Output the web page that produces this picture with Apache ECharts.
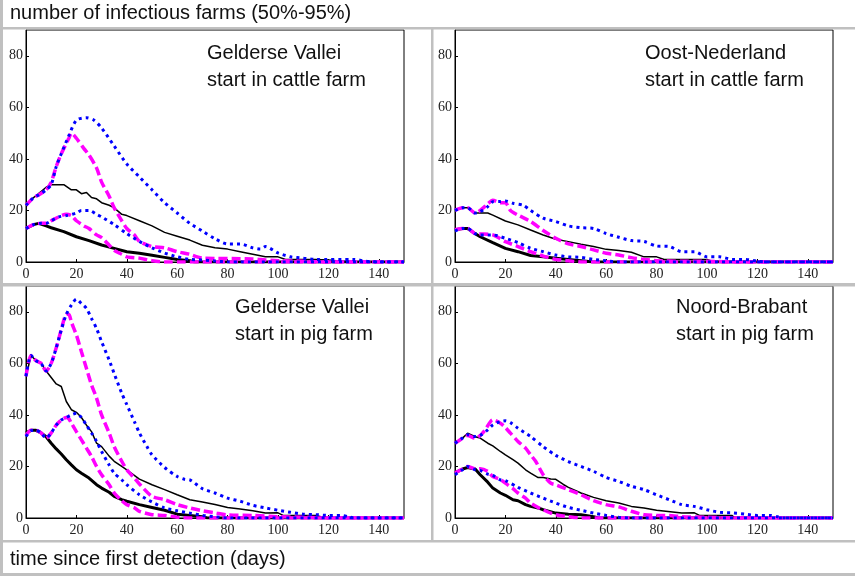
<!DOCTYPE html>
<html>
<head>
<meta charset="utf-8">
<script src="https://cdn.jsdelivr.net/npm/echarts@6/dist/echarts.min.js"></script>
<style>
html,body{margin:0;padding:0;background:#fff;}
#chart{width:855px;height:576px;}
</style>
</head>
<body>
<div id="chart"></div>
<script>
// ---------- labels ----------
const yAxisTitle = 'number of infectious farms (50%-95%)';
const xAxisTitle = 'time since first detection (days)';
const panelTitles = [
  'Gelderse Vallei\nstart in cattle farm',
  'Oost-Nederland\nstart in cattle farm',
  'Gelderse Vallei\nstart in pig farm',
  'Noord-Brabant\nstart in pig farm'
];

// ---------- data: [day, number of infectious farms] ----------
// Panel 1: Gelderse Vallei, start in cattle farm
const gvC_black95 = [[0,22],[3,25],[5,26.5],[8,29],[10,30],[15,30],[18,28],[20,28],[22,26.5],[24,27],[26,25],[28,24.5],[30,23],[33,22],[35,21],[38,18.5],[40,18],[45,16],[50,14],[55,11.5],[60,10],[65,8.5],[70,6.5],[75,5.5],[80,5],[85,4],[90,3],[95,2],[100,2],[103,1],[115,1],[120,0.8],[125,0.3],[130,0],[150,0]];
const gvC_black50 = [[0,13],[3,14.5],[5,15],[8,14],[10,13.3],[15,11.8],[20,9.8],[25,8.3],[30,6.6],[35,5.3],[40,4],[45,3.4],[50,2.6],[55,1.8],[60,1],[65,0.5],[67,0],[150,0]];
const gvC_mag95 = [[0,22],[3,25],[5,26],[8,28],[10,31],[12,37],[14,42],[17,48],[18,50],[20,48],[23,44],[25,41.5],[28,36.5],[30,31],[33,25.5],[35,21],[38,16],[40,13],[43,10.5],[45,8],[50,6],[55,5.5],[60,4],[65,3],[68,2],[70,1.5],[90,1.2],[95,0.8],[100,0.5],[110,0.3],[120,0],[150,0]];
const gvC_mag50 = [[0,13],[3,14.5],[6,15],[8,15],[10,16],[13,17.5],[16,18.5],[18,18],[20,16],[23,14],[25,13],[28,10.5],[30,9.5],[33,6.5],[35,4.5],[38,3],[40,2],[45,1.5],[50,0.5],[55,0],[150,0]];
const gvC_blue95 = [[0,22],[3,25],[5,26],[8,28],[10,30],[12,37],[14,42],[17,49],[20,55],[24,56],[27,55],[30,52],[35,45],[40,38],[45,33],[50,28],[55,23],[60,19],[65,15],[70,12],[75,9],[80,7],[85,7],[90,5.5],[93,5],[95,6],[100,3.5],[105,2],[110,1.5],[115,1],[130,1],[135,0.3],[140,0],[150,0]];
const gvC_blue50 = [[0,13],[3,14.5],[6,15],[8,15],[10,16],[13,17.5],[16,18],[20,19],[22,20],[25,20],[28,18.5],[30,17.5],[35,14.5],[40,11],[45,8],[50,5.5],[55,3.5],[60,2],[65,1],[70,0.8],[75,0.4],[80,0],[150,0]];

// Panel 2: Oost-Nederland, start in cattle farm
const onC_black95 = [[0,20],[3,21],[5,21],[8,19],[10,19],[13,19],[15,18.2],[20,15.9],[25,14.4],[30,12.4],[35,10.5],[40,8.8],[45,7.9],[50,6.9],[55,6],[60,4.9],[65,4.5],[70,3.8],[75,2],[80,2],[83,1],[100,1],[102,0.3],[110,0],[150,0]];
const onC_black50 = [[0,12.5],[3,13],[5,13],[8,11],[10,9.8],[15,7.5],[20,5.3],[25,4],[30,2.5],[35,2],[40,1.5],[45,1],[50,0.5],[55,0],[150,0]];
const onC_mag95 = [[0,20],[3,21],[5,21],[8,19],[10,20],[13,22.5],[15,24],[18,23],[20,23],[22,20],[25,18.2],[30,15.7],[35,12.2],[40,9.2],[45,7],[50,6],[55,4.7],[60,3.4],[65,2.7],[70,1.7],[75,1],[80,0.5],[90,0.3],[100,0.3],[110,0],[150,0]];
const onC_mag50 = [[0,12.5],[3,13],[5,13],[8,11],[10,10.9],[15,10.5],[20,7.9],[25,6],[30,4],[35,2.3],[40,1],[45,0.5],[50,0],[150,0]];
const onC_blue95 = [[0,20],[3,21],[5,21],[8,19],[10,19.5],[13,21.5],[15,23.4],[18,23.5],[20,23.7],[23,22.8],[27,22],[30,20],[35,17],[40,15.7],[45,14],[50,13.3],[55,13],[60,11],[65,9.6],[70,8.3],[75,8],[80,6.2],[85,6],[90,4],[95,4],[100,2],[105,2],[110,1],[115,1],[120,0.3],[125,0],[150,0]];
const onC_blue50 = [[0,12],[3,13],[5,13],[8,11],[10,10.5],[15,10.5],[20,9.2],[25,7.5],[30,5.3],[35,4],[40,2.7],[45,2],[50,1.8],[55,1],[60,0.5],[65,0],[150,0]];

// Panel 3: Gelderse Vallei, start in pig farm
const gvP_black95 = [[0,55],[2,63],[4,61],[6,60],[8,57],[10,54.5],[12,52],[14,51],[16,45.2],[18,42],[20,41],[22,39],[24,36],[26,33.5],[28,29],[30,27.7],[33,24],[35,22],[38,20],[40,18.7],[45,15.1],[50,12.9],[55,11],[60,9],[65,7.1],[70,6.2],[75,5.2],[80,4.1],[85,3.5],[90,2.8],[95,1.9],[100,2],[102,1],[115,1],[117,0.5],[120,0],[150,0]];
const gvP_black50 = [[0,33],[2,34],[4,34],[6,33],[8,31.5],[10,29],[12,26.8],[14,24.8],[16,22.6],[18,20.6],[20,18.7],[22,17.4],[25,15.5],[28,12.9],[30,11.6],[33,10],[35,8.4],[38,7.1],[40,6.5],[45,5.2],[50,4.1],[55,3],[60,1.5],[65,1],[70,0.5],[72,0],[150,0]];
const gvP_mag95 = [[0,55],[2,63],[4,61],[6,60],[8,57],[10,60],[12,66],[14,73],[16,79],[17,79],[18,76],[20,71],[22,64.5],[24,58],[26,51.6],[28,46.5],[30,40],[33,33],[35,27.7],[38,22],[40,18.7],[43,15.5],[45,13.2],[50,8.4],[55,7.1],[60,5.2],[65,3.9],[70,2.8],[75,2],[80,1.2],[90,1],[100,0.5],[110,0.3],[120,0],[150,0]];
const gvP_mag50 = [[0,32],[2,34],[4,34],[6,33],[8,31],[10,33],[12,36],[14,38],[16,39],[17,38.5],[18,36.8],[20,33.5],[22,30.3],[24,27.1],[26,23.9],[28,20],[30,16.8],[33,12.9],[35,9.7],[38,6.7],[40,5.2],[43,4],[45,2.6],[50,1.3],[55,1],[60,0.3],[65,0],[150,0]];
const gvP_blue95 = [[0,55],[2,63],[4,61],[6,60],[8,57],[10,60],[12,66],[14,73],[16,79],[18,82.6],[20,84.9],[22,83.2],[24,81.3],[26,77.4],[28,73.5],[30,68.4],[33,61.3],[35,56],[38,48.4],[40,44],[43,37.4],[45,33],[48,27.7],[50,24.5],[55,19.6],[60,16.1],[63,15],[65,14.8],[70,11.4],[75,9.7],[80,7.7],[85,6.5],[90,4.9],[95,3.9],[100,3],[105,2.2],[110,1.5],[115,1.3],[120,1],[125,1],[128,0.5],[130,0],[150,0]];
const gvP_blue50 = [[0,31.6],[2,33.9],[4,34],[6,33],[8,31],[10,33],[12,36],[14,38],[16,39],[18,40],[20,40.6],[22,39],[24,36],[26,33],[28,29.7],[30,25.8],[33,20.6],[35,17.4],[38,14.8],[40,12.9],[45,9],[50,6.2],[55,3.9],[60,2.8],[65,1.9],[70,1],[75,0.5],[80,0],[150,0]];

// Panel 4: Noord-Brabant, start in pig farm
const nbP_black95 = [[0,29],[3,31],[5,32.9],[8,31.5],[10,31],[13,29],[15,28],[18,25.8],[20,24.5],[23,22.6],[25,21.3],[28,18.7],[30,17.4],[33,15.7],[35,15.7],[38,15.1],[40,15],[43,13],[45,11.9],[50,9.7],[55,8],[60,6.7],[65,5.8],[70,4.5],[75,3.9],[80,3],[90,1.9],[95,2],[97,1],[110,1],[111,0],[150,0]];
const nbP_black50 = [[0,17.5],[3,19],[5,19.6],[8,19],[10,16.8],[13,13.9],[15,11.6],[18,9.7],[20,8.8],[23,7.1],[25,6.7],[28,5.2],[30,4.5],[33,3.9],[35,3.2],[40,1.9],[45,1.5],[50,1.3],[55,0.5],[57,0],[150,0]];
const nbP_mag95 = [[0,29],[3,31],[5,32],[8,31],[10,32],[12,34.2],[15,38.1],[18,36.8],[20,35.1],[22,32.9],[25,29.7],[28,27.1],[30,24.5],[32,22],[35,16.8],[38,13.5],[40,12.9],[45,11],[50,9],[55,6.7],[60,5.2],[65,4.3],[70,2.6],[75,1.3],[80,1],[85,1],[90,0.5],[100,0.3],[110,0],[150,0]];
const nbP_mag50 = [[0,17.5],[3,19],[5,20],[8,19],[10,19.1],[13,18.1],[15,16.1],[18,15],[20,13.5],[23,11.4],[25,9.7],[28,7.7],[30,5.8],[33,4.1],[35,3.2],[38,1.9],[40,1.3],[45,0.5],[50,0],[150,0]];
const nbP_blue95 = [[0,29],[3,31],[5,32.3],[8,31.6],[10,32],[13,34.2],[15,36.1],[18,37.4],[20,37.7],[22,37],[25,34.8],[30,31.6],[35,27.7],[40,24.3],[45,21.9],[50,20],[55,18.1],[60,15.7],[65,14.2],[70,12.3],[75,11],[80,9],[85,7.1],[90,5.2],[95,4.5],[100,3.2],[105,2.2],[110,2],[115,1.5],[120,1],[125,1],[128,0.5],[130,0],[150,0]];
const nbP_blue50 = [[0,16.8],[3,18.7],[5,20],[8,18.7],[10,18.5],[13,17],[15,16.5],[18,14.8],[20,14.5],[25,11.9],[30,9.7],[35,7.7],[40,5.8],[45,4.1],[50,3],[55,1.9],[60,1],[65,0.3],[70,0],[150,0]];

const panels = [
  {black95: gvC_black95, black50: gvC_black50, mag95: gvC_mag95, mag50: gvC_mag50, blue95: gvC_blue95, blue50: gvC_blue50},
  {black95: onC_black95, black50: onC_black50, mag95: onC_mag95, mag50: onC_mag50, blue95: onC_blue95, blue50: onC_blue50},
  {black95: gvP_black95, black50: gvP_black50, mag95: gvP_mag95, mag50: gvP_mag50, blue95: gvP_blue95, blue50: gvP_blue50},
  {black95: nbP_black95, black50: nbP_black50, mag95: nbP_mag95, mag50: nbP_mag50, blue95: nbP_blue95, blue50: nbP_blue50}
];

// ---------- layout ----------
const gridRects = [
  {left: 26, top: 30, width: 378, height: 232},
  {left: 455, top: 30, width: 378, height: 232},
  {left: 26, top: 286, width: 378, height: 232},
  {left: 455, top: 286, width: 378, height: 232}
];
const titlePos = [
  {left: 207, top: 40},
  {left: 645, top: 40},
  {left: 235, top: 294},
  {left: 676, top: 294}
];

const tickFont = {fontFamily: 'Liberation Serif', fontSize: 14, color: '#222'};
const sansFont = 'Liberation Sans';

const grids = [], xAxes = [], yAxes = [], series = [], titles = [];
gridRects.forEach((g, i) => {
  grids.push(Object.assign({show: true, borderColor: '#000', borderWidth: 1, backgroundColor: 'transparent', outerBoundsMode: 'none'}, g));
  xAxes.push({
    type: 'value', gridIndex: i, min: 0, max: 150, interval: 20,
    axisLine: {show: true, onZero: false, lineStyle: {color: '#000', width: 1}},
    axisTick: {show: true, inside: true, length: 3, lineStyle: {color: '#000'}},
    axisLabel: Object.assign({margin: 5, showMaxLabel: false}, tickFont),
    splitLine: {show: false}
  });
  yAxes.push({
    type: 'value', gridIndex: i, min: 0, max: 90, interval: 20,
    axisLine: {show: true, onZero: false, lineStyle: {color: '#000', width: 1}},
    axisTick: {show: true, inside: true, length: 3, lineStyle: {color: '#000'}},
    axisLabel: Object.assign({margin: 3, showMaxLabel: false}, tickFont),
    splitLine: {show: false}
  });
  titles.push({
    text: panelTitles[i], left: titlePos[i].left, top: titlePos[i].top, padding: 0,
    textStyle: {fontFamily: sansFont, fontSize: 20, fontWeight: 'normal', color: '#111', lineHeight: 27}
  });
  const p = panels[i];
  const mk = (data, color, width, type, z, smooth) => ({
    type: 'line', xAxisIndex: i, yAxisIndex: i, data: data, symbol: 'none', smooth: smooth,
    lineStyle: {color: color, width: width, type: type, cap: 'butt'}, z: z, silent: true, animation: false
  });
  series.push(mk(p.black95, '#000', 1.5, 'solid', 2, false));
  series.push(mk(p.black50, '#000', 3, 'solid', 2, false));
  series.push(mk(p.mag95, '#ff00ff', 3.5, [9, 4], 3, 0.25));
  series.push(mk(p.mag50, '#ff00ff', 3.5, [9, 4], 3, 0.25));
  series.push(mk(p.blue95, '#0000ff', 3, [3, 4], 4, 0.25));
  series.push(mk(p.blue50, '#0000ff', 3, [3, 4], 4, 0.25));
});

titles.push({text: yAxisTitle, left: 10, top: 3, padding: 0,
  textStyle: {fontFamily: sansFont, fontSize: 20, fontWeight: 'normal', color: '#111'}});
titles.push({text: xAxisTitle, left: 10, top: 549, padding: 0,
  textStyle: {fontFamily: sansFont, fontSize: 20, fontWeight: 'normal', color: '#111'}});

const gray = '#c0c0c0';
const graphics = [
  {type: 'rect', shape: {x: 0, y: 0, width: 3, height: 576}, style: {fill: gray}, z: 100},
  {type: 'rect', shape: {x: 0, y: 27, width: 855, height: 2.5}, style: {fill: gray}, z: 100},
  {type: 'rect', shape: {x: 0, y: 283, width: 855, height: 3.6}, style: {fill: gray}, z: 100},
  {type: 'rect', shape: {x: 0, y: 540, width: 855, height: 2.5}, style: {fill: gray}, z: 100},
  {type: 'rect', shape: {x: 0, y: 573, width: 855, height: 3}, style: {fill: gray}, z: 100},
  {type: 'rect', shape: {x: 431, y: 29, width: 2.5, height: 512}, style: {fill: gray}, z: 100}
];

const chart = echarts.init(document.getElementById('chart'), null, {renderer: 'canvas'});
chart.setOption({
  backgroundColor: '#fff',
  animation: false,
  title: titles,
  grid: grids,
  xAxis: xAxes,
  yAxis: yAxes,
  series: series,
  graphic: graphics
});
</script>
</body>
</html>
